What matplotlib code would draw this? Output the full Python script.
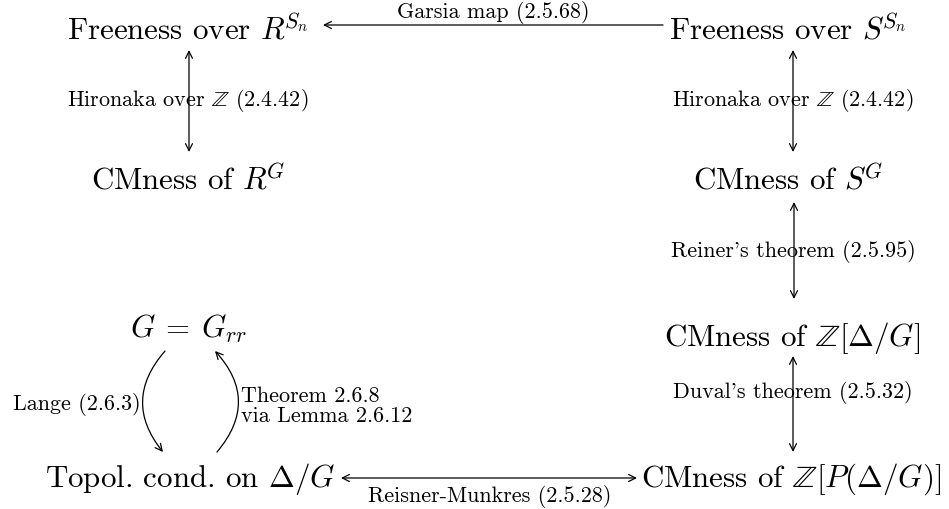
import matplotlib
matplotlib.use("Agg")
import matplotlib.pyplot as plt
from matplotlib.patches import FancyArrowPatch

plt.rcParams['mathtext.fontset'] = 'cm'
plt.rcParams['font.family'] = 'cmr10'
plt.rcParams['axes.formatter.use_mathtext'] = True

# ---- data: nodes and edges of the diagram ----
node_labels = [
    r"Freeness over $R^{\!S_n}$",
    r"Freeness over $S^{\!S_n}$",
    r"CMness of $R^{\!G}$",
    r"CMness of $S^{\!G}$",
    r"$G\:=\:G_{rr}$",
    r"CMness of $\mathbb{Z}[\Delta/G]$",
    r"Topol. cond. on $\Delta/G$",
    r"CMness of $\mathbb{Z}[P(\Delta/G)]$",
]
edge_pairs = [(1, 0), (0, 2), (1, 3), (3, 5), (5, 7), (6, 7), (4, 6), (6, 4)]
edge_styles = ['->', '<->', '<->', '<->', '<->', '<->', '->', '->']
edge_labels = [
    r"Garsia map (2.5.68)",
    r"Hironaka over $\mathbb{Z}$ (2.4.42)",
    r"Hironaka over $\mathbb{Z}$ (2.4.42)",
    r"Reiner's theorem (2.5.95)",
    r"Duval's theorem (2.5.32)",
    r"Reisner-Munkres (2.5.28)",
    r"Lange (2.6.3)",
    "Theorem 2.6.8\nvia Lemma 2.6.12",
]

# ---- layout (pixel coordinates of the canvas) ----
node_xy = [(188, 40), (788, 40), (188, 190), (788, 190),
           (188, 338), (792, 346), (190, 487), (791, 487)]
# arrow endpoints per edge
edge_pts = [((663, 26), (323, 26)),
            ((189, 51), (189, 153)),
            ((793, 51), (793, 153)),
            ((794, 203), (794, 300)),
            ((793, 357), (793, 453)),
            ((341, 479), (637, 479)),
            ((165, 352), (163, 453)),
            ((217, 453), (215, 352))]
edge_rad = [0, 0, 0, 0, 0, 0, 0.42, 0.44]
label_pos = [((493, 12), 'center', 'center'),
             ((188, 101), 'center', 'center'),
             ((793, 101), 'center', 'center'),
             ((793, 252), 'center', 'center'),
             ((793, 393), 'center', 'center'),
             ((490, 497), 'center', 'center'),
             ((141, 405), 'right', 'center'),
             ((241, 406), 'left', 'center')]

W, H = 949, 510
fig = plt.figure(figsize=(W / 100, H / 100), dpi=100)
ax = fig.add_axes([0, 0, 1, 1])
ax.set_xlim(0, W)
ax.set_ylim(H, 0)
ax.axis('off')

for lab, (x, y) in zip(node_labels, node_xy):
    ax.text(x, y, lab, fontsize=22.3, ha='center', va='baseline')

for (p0, p1), st, rad in zip(edge_pts, edge_styles, edge_rad):
    arr = FancyArrowPatch(p0, p1, arrowstyle=st + ',head_length=5,head_width=2.5',
                          connectionstyle=f'arc3,rad={rad}',
                          mutation_scale=1, lw=0.9, color='black',
                          shrinkA=0, shrinkB=0)
    ax.add_patch(arr)

for lab, ((x, y), ha, va) in zip(edge_labels, label_pos):
    ax.text(x, y, lab, fontsize=15.9, ha=ha, va=va, linespacing=1.0)

fig.savefig('out.png', dpi=100)
